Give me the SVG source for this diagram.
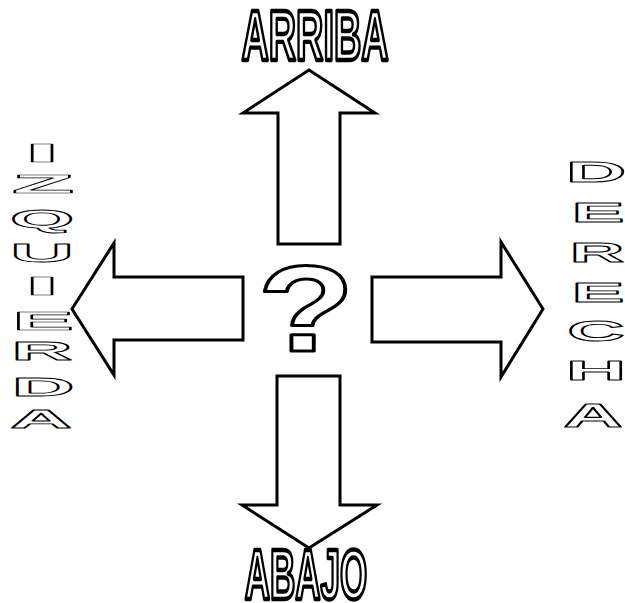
<svg xmlns="http://www.w3.org/2000/svg" width="625" height="603" viewBox="0 0 625 603">
<style>
.arrow{fill:#fff;stroke:#000;stroke-width:3;stroke-linejoin:miter}
.big{font-family:"Liberation Sans",Arial,sans-serif;font-weight:bold;fill:#fff;stroke:#000;stroke-width:3.5;stroke-linejoin:round;text-anchor:middle}
.sm{font-family:"Liberation Sans",Arial,sans-serif;font-weight:bold;fill:#fff;stroke:#000;stroke-width:2;stroke-linejoin:round;text-anchor:middle}
.big,.sm{vector-effect:non-scaling-stroke}
</style>
<rect width="625" height="603" fill="#fff"/>
<g id="connectors">
<polygon id="arrow-up" class="arrow" points="309,70 375,113 340,113 340,244 278,244 278,113 243,113"/>
<polygon id="arrow-right" class="arrow" points="543,309 501,377 501,342 372,342 372,277 501,277 501,242"/>
<polygon id="arrow-down" class="arrow" points="309,548 377,505 340,505 340,376 277,376 277,505 242,505"/>
<polygon id="arrow-left" class="arrow" points="72,309 114,243 114,277 243,277 243,340 114,340 114,375"/>
</g>
<g id="node-center"><text class="big" font-size="122" transform="translate(306,351) scale(1.3,1)" vector-effect="non-scaling-stroke">?</text></g>
<g id="node-arriba"><text class="big" font-size="70" transform="translate(315,60) scale(0.54,1)" vector-effect="non-scaling-stroke">ARRIBA</text></g>
<g id="node-abajo"><text class="big" font-size="70" transform="translate(306,599) scale(0.5,1)" vector-effect="non-scaling-stroke">ABAJO</text></g>
<g id="node-izquierda">
<text class="sm" font-size="25" transform="translate(42,162) scale(5.5,1)" vector-effect="non-scaling-stroke">I</text>
<text class="sm" font-size="25" transform="translate(43,193) scale(4.1,1)" vector-effect="non-scaling-stroke">Z</text>
<text class="sm" font-size="25" transform="translate(42,228) scale(3.3,1)" vector-effect="non-scaling-stroke">Q</text>
<text class="sm" font-size="25" transform="translate(42,262) scale(3.55,1)" vector-effect="non-scaling-stroke">U</text>
<text class="sm" font-size="25" transform="translate(42,295) scale(5.5,1)" vector-effect="non-scaling-stroke">I</text>
<text class="sm" font-size="25" transform="translate(43,330) scale(3.7,1)" vector-effect="non-scaling-stroke">E</text>
<text class="sm" font-size="25" transform="translate(42,360) scale(3.4,1)" vector-effect="non-scaling-stroke">R</text>
<text class="sm" font-size="25" transform="translate(43,396) scale(3.5,1)" vector-effect="non-scaling-stroke">D</text>
<text class="sm" font-size="25" transform="translate(41,428) scale(3.44,1)" vector-effect="non-scaling-stroke">A</text>
</g>
<g id="node-derecha">
<text class="sm" font-size="30" transform="translate(596,182) scale(2.8,1)" vector-effect="non-scaling-stroke">D</text>
<text class="sm" font-size="28" transform="translate(598,222) scale(2.84,1)" vector-effect="non-scaling-stroke">E</text>
<text class="sm" font-size="28" transform="translate(597,262) scale(2.7,1)" vector-effect="non-scaling-stroke">R</text>
<text class="sm" font-size="28" transform="translate(598,302) scale(2.84,1)" vector-effect="non-scaling-stroke">E</text>
<text class="sm" font-size="29" transform="translate(596,341) scale(2.74,1)" vector-effect="non-scaling-stroke">C</text>
<text class="sm" font-size="28" transform="translate(596,380) scale(3,1)" vector-effect="non-scaling-stroke">H</text>
<text class="sm" font-size="33" transform="translate(593,427) scale(2.5,1)" vector-effect="non-scaling-stroke">A</text>
</g>
</svg>
